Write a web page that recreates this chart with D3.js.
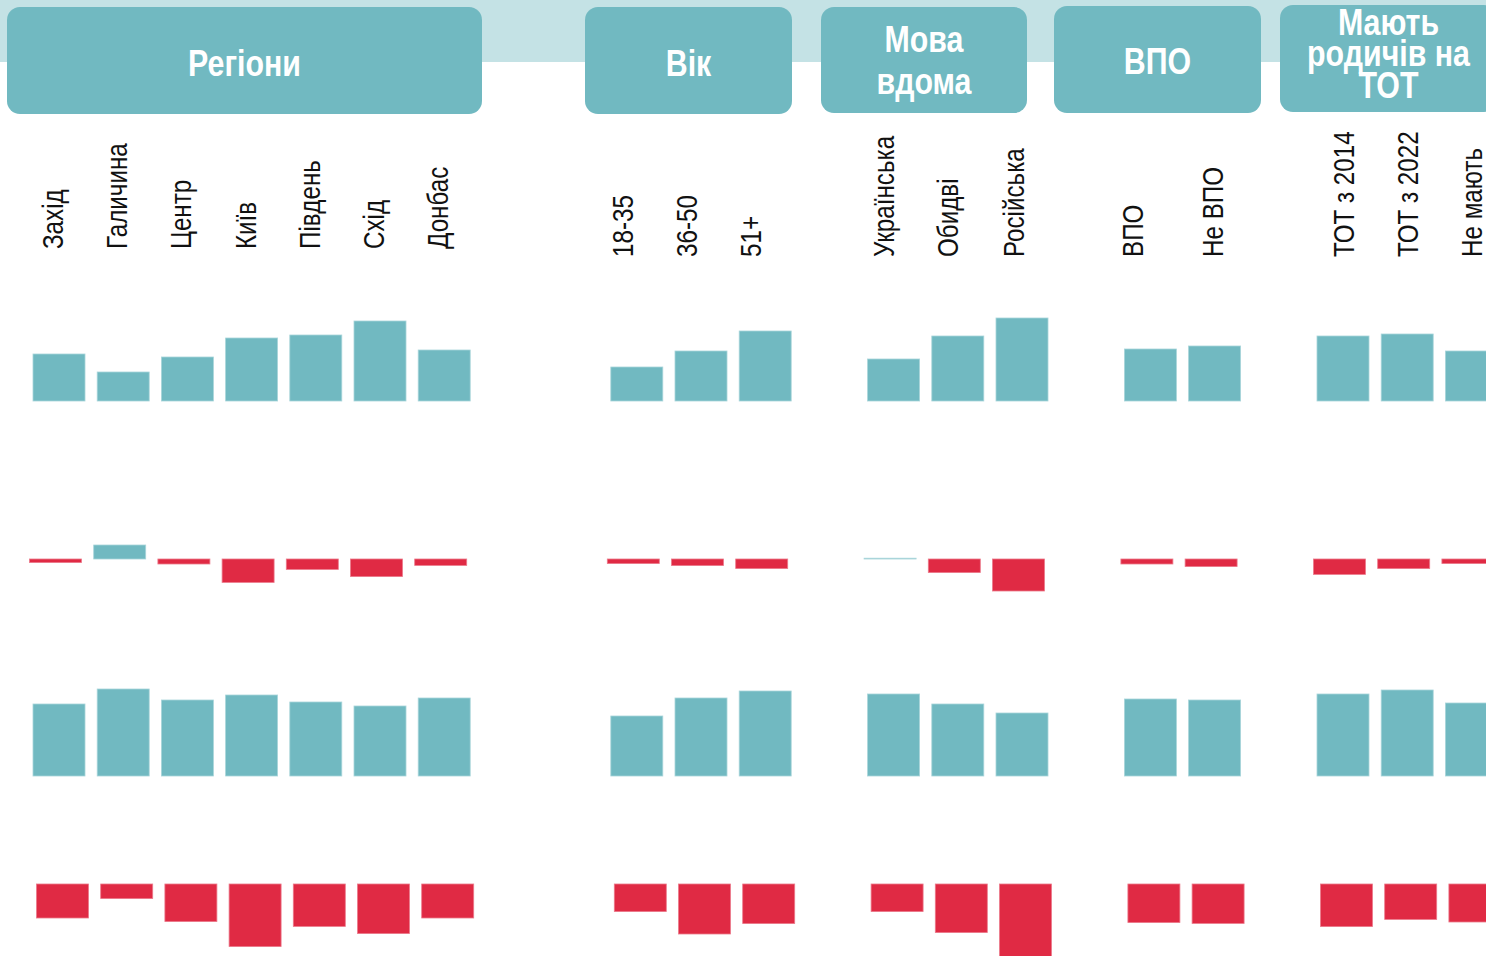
<!DOCTYPE html>
<html><head><meta charset="utf-8">
<script src="https://cdn.jsdelivr.net/npm/d3@7"></script>
<style>html,body{margin:0;padding:0;background:#fff;overflow:hidden}</style>
</head><body><svg id="chart" width="1486" height="956"></svg>
<script>
// ---------- DATA ----------
const groups = ["Регіони", "Вік", "Мова вдома", "ВПО", "Мають родичів на ТОТ"];
const categories = ["Захід","Галичина","Центр","Київ","Південь","Схід","Донбас",
  "18-35","36-50","51+",
  "Українська","Обидві","Російська",
  "ВПО","Не ВПО",
  "ТОТ з 2014","ТОТ з 2022","Не мають"];
const categoryGroup = [0,0,0,0,0,0,0, 1,1,1, 2,2,2, 3,3, 4,4,4];
// row 1 and row 3: levels; row 2 and row 4: changes
const row1 = [23.5,14.5,22,31.5,33,40,25.5, 17,25,35, 21,32.5,41.5, 26,27.5, 32.5,33.5,25];
const row2 = [-1.8,7,-2.5,-11.7,-5.2,-8.8,-3.2, -2.3,-3.3,-4.8, 0.4,-6.8,-16, -2.5,-3.8, -7.7,-4.8,-2.3];
const row3 = [36,43.5,38,40.5,37,35,39, 30,39,42.5, 41,36,31.5, 38.5,38, 41,43,36.5];
const row4 = [-17,-7.3,-18.8,-31.3,-21.2,-24.8,-17, -13.8,-25,-19.8, -13.8,-24.3,-38, -19.3,-19.7, -21.3,-17.7,-19];

// ---------- LAYOUT / STYLE ----------
const W = 1486, H = 956;
const TEAL = "#71b9c1", RED = "#e02a44", BAND = "#c4e2e5";
const gapAfter = [2,1,1,1,0];
const headerBoxes = [
  {x0:7, x1:482, y0:7, y1:114, lines:["Регіони"], base:[76]},
  {x0:585, x1:792, y0:7, y1:114, lines:["Вік"], base:[76]},
  {x0:821, x1:1027, y0:7, y1:113, lines:["Мова","вдома"], base:[52,94]},
  {x0:1054, x1:1261, y0:6, y1:113, lines:["ВПО"], base:[74]},
  {x0:1280, x1:1497, y0:5, y1:112, lines:["Мають","родичів на","ТОТ"], base:[35,66,98]}
];
// label baseline offset from bar centre (per category, layout only)
const labelShift = [4,4,4,4,4,4,4, -4,-4,-4, 0,0,2, -7,8, 11,11,11];
const labelBottom = [249,257,257,257,257];
const rows = [
  {values:row1, base:401, dx:0},
  {values:row2, base:559, dx:-3.5},
  {values:row3, base:776, dx:0},
  {values:row4, base:884, dx:3.5}
];
const PX_PER_UNIT = 2;

const svg = d3.select("#chart");

// slot domain with spacer slots between groups
const domain = [];
groups.forEach((g, gi) => {
  categories.forEach((c, ci) => { if (categoryGroup[ci] === gi) domain.push(c); });
  for (let k = 0; k < gapAfter[gi]; k++) domain.push("gap" + gi + "_" + k);
});
const pad = 0.19, step = 64.2;
const x = d3.scaleBand().domain(domain)
  .range([33, 33 + step * (domain.length - pad)])
  .paddingInner(pad).paddingOuter(0);

// top band
svg.append("rect").attr("x", 0).attr("y", 0).attr("width", W).attr("height", 62).attr("fill", BAND);

// header boxes
const hg = svg.append("g");
headerBoxes.forEach((b, i) => {
  hg.append("rect").attr("x", b.x0).attr("y", b.y0).attr("width", b.x1 - b.x0).attr("height", b.y1 - b.y0)
    .attr("rx", 13).attr("ry", 13).attr("fill", TEAL);
  const cx = (b.x0 + b.x1) / 2;
  b.lines.forEach((ln, li) => {
    hg.append("text")
      .attr("transform", `translate(${cx},${b.base[li]}) scale(0.82,1)`)
      .attr("text-anchor", "middle")
      .attr("font-family", "'Liberation Sans', Arial, sans-serif")
      .attr("font-weight", "bold").attr("font-size", 37)
      .attr("fill", "#ffffff").text(ln);
  });
});

// category labels (rotated)
svg.append("g").selectAll("text").data(categories).join("text")
  .attr("transform", (d, i) => {
    const g = categoryGroup[i];
    const cx = x(d) + x.bandwidth() / 2 + labelShift[i];
    return `translate(${cx},${labelBottom[g]}) rotate(-90) scale(0.82,1)`;
  })
  .attr("text-anchor", "start")
  .attr("font-family", "'Liberation Sans', Arial, sans-serif")
  .attr("font-size", 29.5).attr("fill", "#111")
  .text(d => d);

// bars
rows.forEach(r => {
  const y = d3.scaleLinear().domain([0, 1]).range([r.base, r.base - PX_PER_UNIT]);
  svg.append("g").selectAll("rect").data(categories).join("rect")
    .attr("x", d => x(d) + r.dx)
    .attr("width", x.bandwidth())
    .attr("y", (d, i) => Math.min(y(r.values[i]), y(0)))
    .attr("height", (d, i) => Math.abs(y(r.values[i]) - y(0)))
    .attr("fill", (d, i) => r.values[i] >= 0 ? TEAL : RED)
    .attr("stroke", (d, i) => r.values[i] >= 0 ? "#a9d5da" : "#ec7a8b")
    .attr("stroke-width", 0.8);
});
</script></body></html>
